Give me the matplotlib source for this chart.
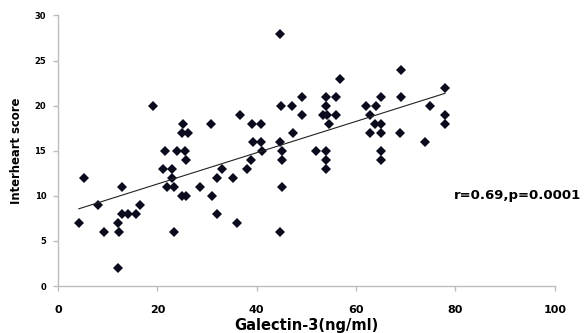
import numpy as np
import matplotlib
matplotlib.use("Agg")
import matplotlib.pyplot as plt

galectin = [4.2, 5.2, 8.1, 9.3, 12.1, 12.3, 12.1, 12.8, 12.8, 14.0, 15.7, 16.5, 19.1,
            21.1, 21.5, 21.9, 23.0, 23.0, 23.4, 23.4, 24.0, 25.2, 24.9, 26.1, 25.6, 25.8,
            24.9, 25.7, 28.6, 30.9, 31.1, 32.0, 32.0, 33.0, 35.3, 36.1, 36.7, 38.0, 38.9,
            39.0, 39.2, 40.9, 40.9, 41.0, 44.7, 44.9, 44.7, 45.0, 45.0, 45.0, 44.7, 47.1,
            47.4, 49.1, 49.1, 52.0, 54.0, 54.0, 54.0, 54.0, 54.0, 53.4, 54.1, 55.9, 55.9,
            54.6, 56.8, 62.0, 64.0, 62.8, 63.8, 65.0, 62.8, 65.0, 65.0, 65.0, 65.0, 69.0,
            69.0, 68.9, 73.9, 74.8, 77.9, 77.9, 77.9]
interheart = [7, 12, 9, 6, 7, 6, 2, 11, 8, 8, 8, 9, 20,
              13, 15, 11, 13, 12, 11, 6, 15, 18, 17, 17, 15, 14,
              10, 10, 11, 18, 10, 12, 8, 13, 12, 7, 19, 13, 14,
              18, 16, 18, 16, 15, 28, 20, 16, 15, 14, 11, 6, 20,
              17, 21, 19, 15, 15, 14, 13, 21, 20, 19, 19, 21, 19,
              18, 23, 20, 20, 19, 18, 18, 17, 17, 21, 15, 14, 21,
              24, 17, 16, 20, 19, 18, 22]

x_ticks = [0, 20, 40, 60, 80, 100]
x_tick_labels = ["0", "20", "40", "60", "80", "100"]
y_ticks = [0, 5, 10, 15, 20, 25, 30]
y_tick_labels = ["0", "5", "10", "15", "20", "25", "30"]
annotation = "r=0.69,p=0.0001"

x = np.array(galectin)
y = np.array(interheart)

fig = plt.figure(figsize=(5.84, 3.33), dpi=100)
ax = fig.add_axes([0.0993, 0.141, 0.851, 0.813])

ax.plot(x, y, linestyle="none", marker="D", markersize=4.6,
        color="#0b0b1e", markeredgewidth=0)

slope, intercept = np.polyfit(x, y, 1)
xl = np.array([x.min(), x.max()])
ax.plot(xl, slope * xl + intercept, color="#222222", linewidth=0.8)

ax.set_xlim(0, 100.05)
ax.set_ylim(0, 30.02)
ax.set_xticks(x_ticks)
ax.set_xticklabels(x_tick_labels, fontsize=8, fontweight="bold", color="black")
ax.set_yticks(y_ticks)
ax.set_yticklabels(y_tick_labels, fontsize=6, fontweight="bold", color="black")
for s in ["top", "right"]:
    ax.spines[s].set_visible(False)
for s in ["left", "bottom"]:
    ax.spines[s].set_color("#bdbdbd")
    ax.spines[s].set_linewidth(1.0)
ax.tick_params(axis="both", direction="out", color="#bdbdbd", length=3.5, width=1.0)
ax.tick_params(axis="x", pad=10.5)
ax.tick_params(axis="y", pad=5)

ax.set_xlabel("Galectin-3(ng/ml)", fontsize=10.5, fontweight="bold")
ax.xaxis.set_label_coords(0.5, -0.118)
ax.set_ylabel("Interheart score", fontsize=8.4, fontweight="heavy",
              family=["DejaVu Sans"])
ax.yaxis.set_label_coords(-0.071, 0.5)

ax.text(79.6, 10.0, annotation, fontsize=9.5, fontweight="bold", ha="left",
        va="center", clip_on=False)

fig.savefig("out.png", dpi=100)
